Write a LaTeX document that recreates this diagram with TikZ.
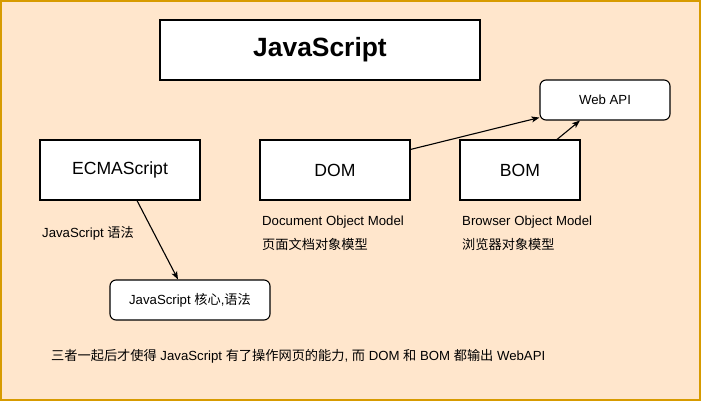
\documentclass[tikz,border=0pt]{standalone}
\usepackage{fontspec}
\setmainfont{Liberation Sans}
\newfontfamily\cjk{Noto Sans CJK SC}
\usetikzlibrary{arrows.meta}
\definecolor{peach}{HTML}{FFE6CC}
\definecolor{amber}{HTML}{D79B00}

\begin{document}
\begin{tikzpicture}[x=1pt,y=-1pt]
    \tikzstyle{box}=[draw, line width=1.1pt, fill=white, inner sep=0pt, font=\fontsize{17.6}{20}\selectfont]
    \tikzstyle{rbox}=[box, rounded corners=6pt, font=\fontsize{13.2}{15}\selectfont]
    \tikzstyle{note}=[anchor=west, inner sep=0pt, font=\fontsize{13.2}{15}\selectfont]
    \tikzstyle{link}=[-{Stealth[length=8pt,width=6pt,inset=2pt]}, line width=1.1pt]
    \useasboundingbox (0,0) rectangle (701,401);
    \draw[amber, fill=peach, line width=2pt] (1,1) rectangle (700,400);
    \node[box, minimum width=320pt, minimum height=60pt, font=\bfseries\fontsize{26.4}{30}\selectfont] (js) at (320,50) {JavaScript};
    \node[box, minimum width=160pt, minimum height=60pt] (ecma) at (120,170) {ECMAScript};
    \node[box, minimum width=150pt, minimum height=60pt] (dom) at (335,170) {DOM};
    \node[box, minimum width=120pt, minimum height=60pt] (bom) at (520,170) {BOM};
    \node[rbox, minimum width=130pt, minimum height=40pt] (webapi) at (605,100) {Web API};
    \node[rbox, minimum width=160pt, minimum height=40pt] (core) at (190,300) {JavaScript {\cjk 核心},{\cjk 语法}};
    \node[note] (syntax) at (42,233) {JavaScript {\cjk 语法}};
    \node[note] (domfull) at (262,222) {Document Object Model};
    \node[note] (domcn) at (262,244) {\cjk 页面文档对象模型};
    \node[note] (bomfull) at (462,222) {Browser Object Model};
    \node[note] (bomcn) at (462,244) {\cjk 浏览器对象模型};
    \node[note] (summary) at (51,356) {{\cjk 三者一起后才使得} JavaScript {\cjk 有了操作网页的能力}, {\cjk 而} DOM {\cjk 和} BOM {\cjk 都输出} WebAPI};
    \draw[link] ([xshift=17pt]ecma.south) -- ([xshift=-12pt]core.north);
    \draw[link] ([yshift=-10pt]dom.north east) -- ([yshift=3pt]webapi.south west);
    \draw[link] ([xshift=37pt]bom.north) -- ([xshift=-25pt]webapi.south);
\end{tikzpicture}
\end{document}
